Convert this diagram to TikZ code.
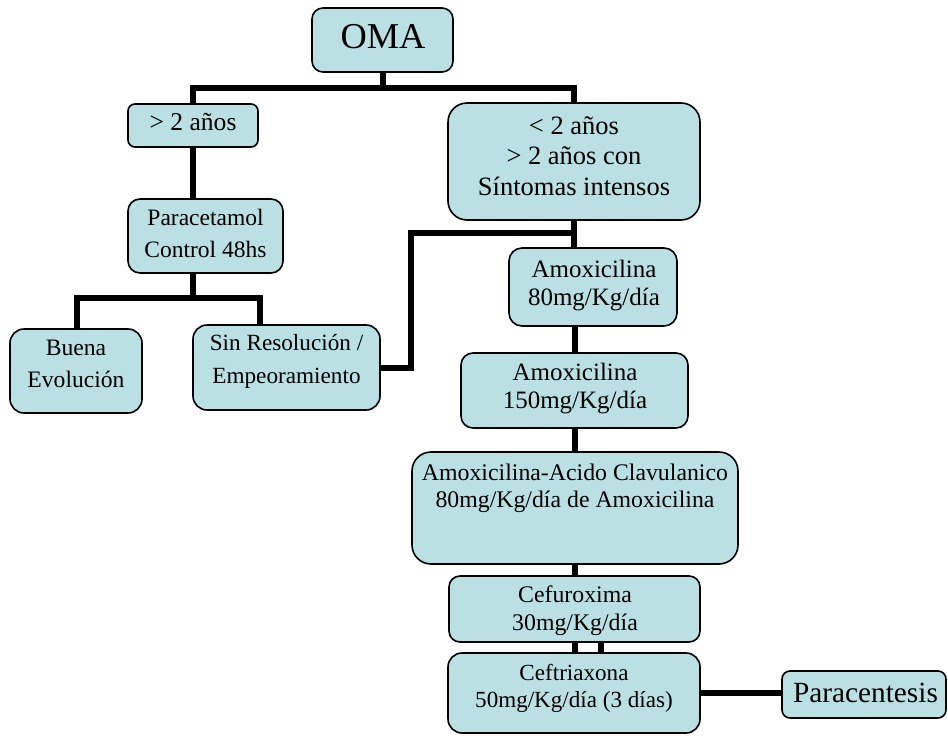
\documentclass[tikz,border=0pt]{standalone}
\usepackage{fontspec}
\setmainfont{Liberation Serif}
\usetikzlibrary{backgrounds}
\definecolor{boxfill}{RGB}{187,224,227}
\tikzset{
  box/.style={draw=black, line width=1.6pt, fill=boxfill, inner sep=0pt},
  txt/.style={align=center, anchor=base, inner sep=0pt, text=black},
  conn/.style={line width=6pt, draw=black, line join=miter}
}
\newcommand{\fs}[2]{\fontsize{#1}{#2}\selectfont}
\begin{document}
\begin{tikzpicture}[x=1pt, y=-1pt]
\useasboundingbox (0,0) rectangle (948,736);
% boxes
\node[box, rounded corners=11pt, minimum width=141pt, minimum height=64pt] (oma) at (382.5,40) {};
\node[box, rounded corners=7pt, minimum width=130pt, minimum height=43pt] (a2) at (193,125.5) {};
\node[box, rounded corners=19pt, minimum width=252pt, minimum height=117pt] (b2) at (574,161.5) {};
\node[box, rounded corners=12pt, minimum width=155pt, minimum height=74pt] (par) at (205.5,236) {};
\node[box, rounded corners=14pt, minimum width=132pt, minimum height=84pt] (buena) at (76,371) {};
\node[box, rounded corners=14pt, minimum width=187pt, minimum height=85pt] (sin) at (286.5,367.5) {};
\node[box, rounded corners=13pt, minimum width=168pt, minimum height=78pt] (am80) at (593,287) {};
\node[box, rounded corners=12pt, minimum width=227pt, minimum height=75pt] (am150) at (574.5,390.5) {};
\node[box, rounded corners=19pt, minimum width=326pt, minimum height=112pt] (ac) at (575,508) {};
\node[box, rounded corners=11pt, minimum width=251pt, minimum height=66pt] (cefu) at (574.5,609) {};
\node[box, rounded corners=14pt, minimum width=252pt, minimum height=80pt] (ceft) at (574,693) {};
\node[box, rounded corners=8pt, minimum width=164pt, minimum height=47pt] (pc) at (864,694.5) {};
% texts (anchor base = baseline of last line)
\node[txt, font=\fs{36.4}{40}] (tOMA) at (383,48) {OMA};
\node[txt, font=\fs{25.6}{30}] (ta2) at (193,130) {> 2 años};
\node[txt, font=\fs{26.5}{30.5}] (tb2) at (574,195) {< 2 años\\> 2 años con\\Síntomas intensos};
\node[txt, font=\fs{23.5}{32}] (tpar) at (205.5,257) {Paracetamol\\Control 48hs};
\node[txt, font=\fs{23.6}{32}] (tbuena) at (76,387) {Buena\\Evolución};
\node[txt, font=\fs{23.2}{33}] (tsin) at (286.5,383) {Sin Resolución /\\Empeoramiento};
\node[txt, font=\fs{25}{28}] (tam80) at (594,305) {Amoxicilina\\80mg/Kg/día};
\node[txt, font=\fs{25}{28}] (tam150) at (575,408) {Amoxicilina\\150mg/Kg/día};
\node[txt, font=\fs{23.8}{27}] (tac) at (575,507) {Amoxicilina-Acido Clavulanico\\80mg/Kg/día de Amoxicilina};
\node[txt, font=\fs{23.8}{28}] (tcefu) at (575,630) {Cefuroxima\\30mg/Kg/día};
\node[txt, font=\fs{23.1}{27}] (tceft) at (574,707) {Ceftriaxona\\50mg/Kg/día (3 días)};
\node[txt, font=\fs{29.3}{32}] (tpc) at (865.5,702) {Paracentesis};
% junction coordinates
\coordinate (spine) at (575,0);
\coordinate (pj) at (193,298);
\coordinate (sj) at (260,298);
\coordinate (bj) at (77,298);
\coordinate (jr) at (575,233);
\coordinate (spine2) at (601,0);
% connectors
\begin{pgfonlayer}{background}
\draw[conn] (oma.south) -- ++(0,15) -| (a2.north);
\draw[conn] (oma.south) -- ++(0,15) -| (b2.north);
\draw[conn] (a2.south) -- (a2.south |- par.north);
\draw[conn] (a2.south |- par.south) -- (pj);
\draw[conn] (bj |- buena.north) -- (bj) -- (sj) -- (sj |- sin.north);
\draw[conn] (sin.east) -- ++(30,0) |- (jr);
\draw[conn] (b2.south) -- (b2.south |- am80.north);
\draw[conn] (spine |- am80.south) -- (spine |- am150.north);
\draw[conn] (spine |- am150.south) -- (spine |- ac.north);
\draw[conn] (spine |- ac.south) -- (spine |- cefu.north);
\draw[conn] (spine |- cefu.south) -- (spine |- ceft.north);
\draw[conn] (spine2 |- cefu.south) -- (spine2 |- ceft.north);
\draw[conn] (ceft.east) -- (ceft.east -| pc.west);
\end{pgfonlayer}
\end{tikzpicture}
\end{document}
